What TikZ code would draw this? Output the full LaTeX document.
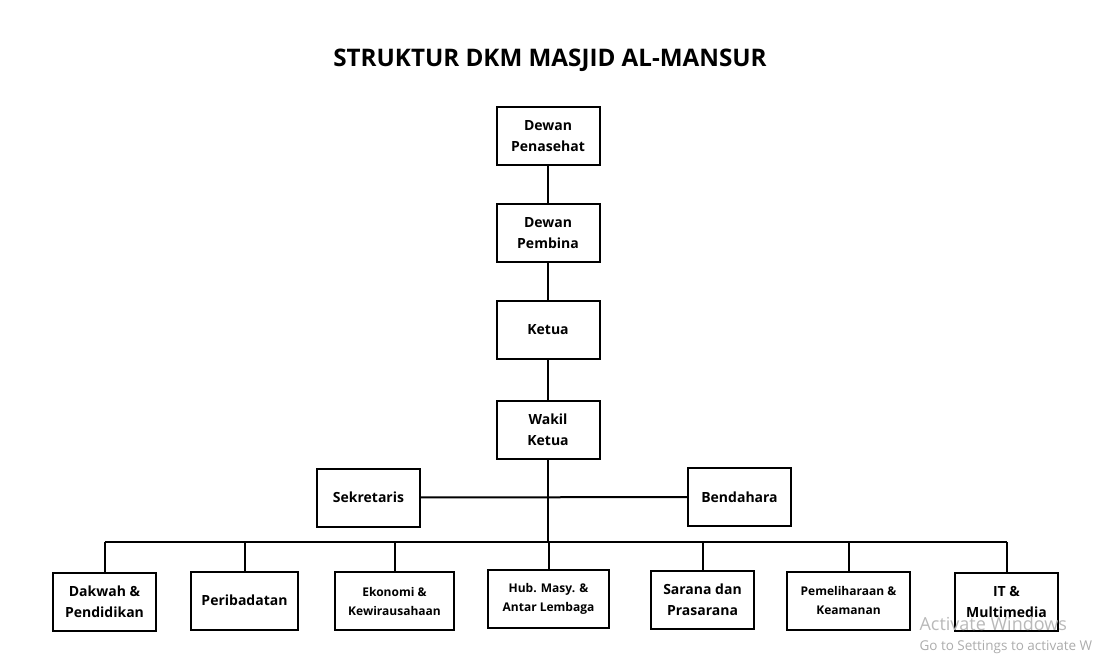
\documentclass[tikz,border=0pt]{standalone}
\usepackage{fontspec}
\setmainfont{Open Sans}
\begin{document}
\begin{tikzpicture}[x=1pt,y=-1pt,
  box/.style={draw,line width=2pt,minimum width=103pt,minimum height=58pt,
    align=center,inner sep=2pt,font=\bfseries\fontsize{14}{21}\selectfont},
  smallbox/.style={box,font=\bfseries\fontsize{12}{19}\selectfont},
  link/.style={line width=2pt}]
  \useasboundingbox (0,0) rectangle (1098,670);
  \node (title) at (550,60) {\bfseries\fontsize{24.2}{28}\selectfont STRUKTUR DKM MASJID AL-MANSUR};
  % pimpinan
  \node[box] (penasehat) at (548,136) {Dewan\\Penasehat};
  \node[box] (pembina) at (548,233) {Dewan\\Pembina};
  \node[box] (ketua) at (548,329.5) {Ketua};
  \node[box] (wakil) at (548,430) {Wakil\\Ketua};
  \node[box] (sekretaris) at (368.5,497.5) {Sekretaris};
  \node[box] (bendahara) at (739.5,497) {Bendahara};
  % bidang
  \node[box] (dakwah) at (104.5,601.5) {Dakwah \&\\Pendidikan};
  \node[box,minimum width=107pt] (ibadah) at (244.5,600.5) {Peribadatan};
  \node[smallbox,minimum width=119pt] (ekonomi) at (394.5,601) {Ekonomi \&\\Kewirausahaan};
  \node[smallbox,minimum width=121pt] (humas) at (548.5,599) {Hub. Masy. \&\\Antar Lembaga};
  \node[box] (sarana) at (702.5,600) {Sarana dan\\Prasarana};
  \node[smallbox,minimum width=123pt] (pemeliharaan) at (848.5,600.5) {Pemeliharaan \&\\Keamanan};
  \node[box] (it) at (1006.5,602) {IT \&\\Multimedia};
  \coordinate (bus) at (548,542);
  \draw[link] (penasehat) -- (pembina);
  \draw[link] (pembina) -- (ketua);
  \draw[link] (ketua) -- (wakil);
  \draw[link] (wakil.south) -- (bus);
  \draw[link] (sekretaris) -- (bendahara);
  \draw[link] (dakwah.north |- bus) -- (it.north |- bus);
  \foreach \n in {dakwah,ibadah,ekonomi,humas,sarana,pemeliharaan,it}
    \draw[link] (\n.north) -- (\n.north |- bus);
  % watermark
  \node[anchor=west,text=gray!55,font=\fontsize{18}{20}\selectfont] (activate) at (916,624) {Activate Windows};
  \node[anchor=west,text=gray!65,font=\fontsize{13.5}{16}\selectfont] (settings) at (916,647) {Go to Settings to activate W};
\end{tikzpicture}
\end{document}
